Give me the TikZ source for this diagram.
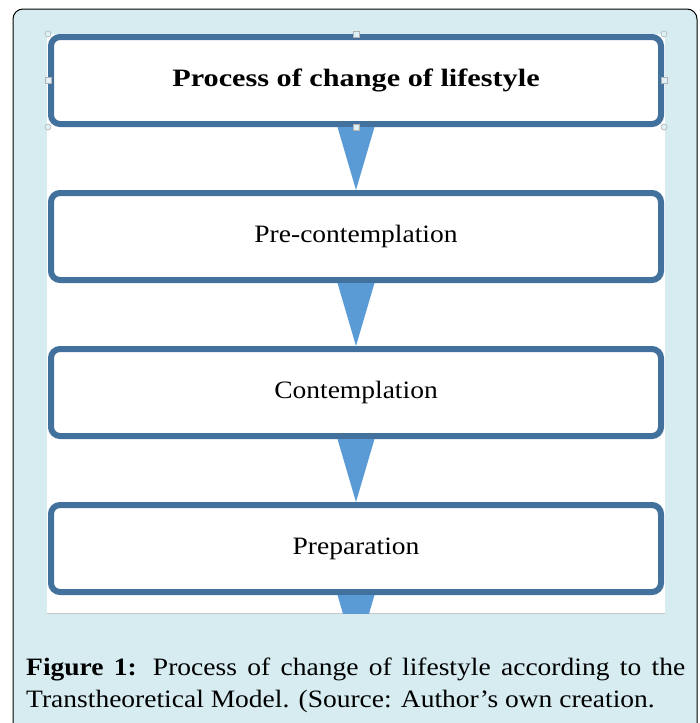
\documentclass[tikz,border=0pt]{standalone}
\usepackage{fontspec}
\setmainfont{Liberation Serif}[FakeStretch=1.1]
\usepackage{tikz}
\usetikzlibrary{positioning}

\definecolor{boxline}{HTML}{41719C}
\definecolor{arrowblue}{HTML}{5B9BD5}
\definecolor{panel}{HTML}{D7ECF1}
\definecolor{handle}{HTML}{DDF1F7}

\begin{document}
\begin{tikzpicture}[x=1pt, y=1pt,
	stage/.style={draw=boxline, line width=6pt, rounded corners=9pt, fill=white,
		minimum width=610pt, minimum height=87pt, font=\fontsize{25}{29}\selectfont},
	down/.style={fill=arrowblue},
	grip/.style={draw=gray!60, fill=handle, line width=0.6pt},
	node distance=63pt]
	\useasboundingbox (0,0) rectangle (699,-723);
	
	% frame and white sheet
	\begin{scope}
		\clip (0,0) rectangle (699,-723);
		\draw[fill=panel, rounded corners=10pt, line width=1pt] (13,-9) rectangle (697,-740);
	\end{scope}
	\fill[white] (47,-34) rectangle (665,-613);
	\draw[gray!45, line width=1.5pt] (47,-613.5) -- (665,-613.5);
	
	\node[stage, font=\fontsize{25}{29}\selectfont\bfseries] (top) at (356,-80.5) {\scalebox{1.1}[1]{Process of change of lifestyle}};
	\node[stage, below=of top] (pre) {Pre-contemplation};
	\node[stage, below=of pre] (cont) {Contemplation};
	\node[stage, below=of cont] (prep) {Preparation};
	\coordinate[below=of prep] (next);
	
	\def\hw{18.5pt}
	\foreach \a/\b in {top/pre, pre/cont, cont/prep}
		\fill[down] ([xshift=-\hw]\a.south) -- ([xshift=\hw]\a.south) -- (\b.north) -- cycle;
	\begin{scope}
		\clip (47,-34) rectangle (665,-613);
		\fill[down] ([xshift=-\hw]prep.south) -- ([xshift=\hw]prep.south) -- (next) -- cycle;
	\end{scope}
	
	% selection handles on the first box
	\foreach \p in {north, south, west, east}
		\filldraw[grip] ([shift={(-3,-3)}]top.\p) rectangle ([shift={(3,3)}]top.\p);
	\foreach \p in {north west, north east, south west, south east}
		\filldraw[grip] (top.\p) circle (3pt);
	
	% caption
	\def\capfont{\fontsize{25}{29}\selectfont}
	\node[anchor=base west, inner sep=0, font=\capfont] (cap1) at (26,-675)
		{\makebox[659pt][s]{\textbf{Figure 1:} Process of change of lifestyle according to the}};
	\node[anchor=base west, inner sep=0, font=\capfont] (cap2) at (26,-707)
		{Transtheoretical Model. (Source: Author’s own creation.};
\end{tikzpicture}
\end{document}
